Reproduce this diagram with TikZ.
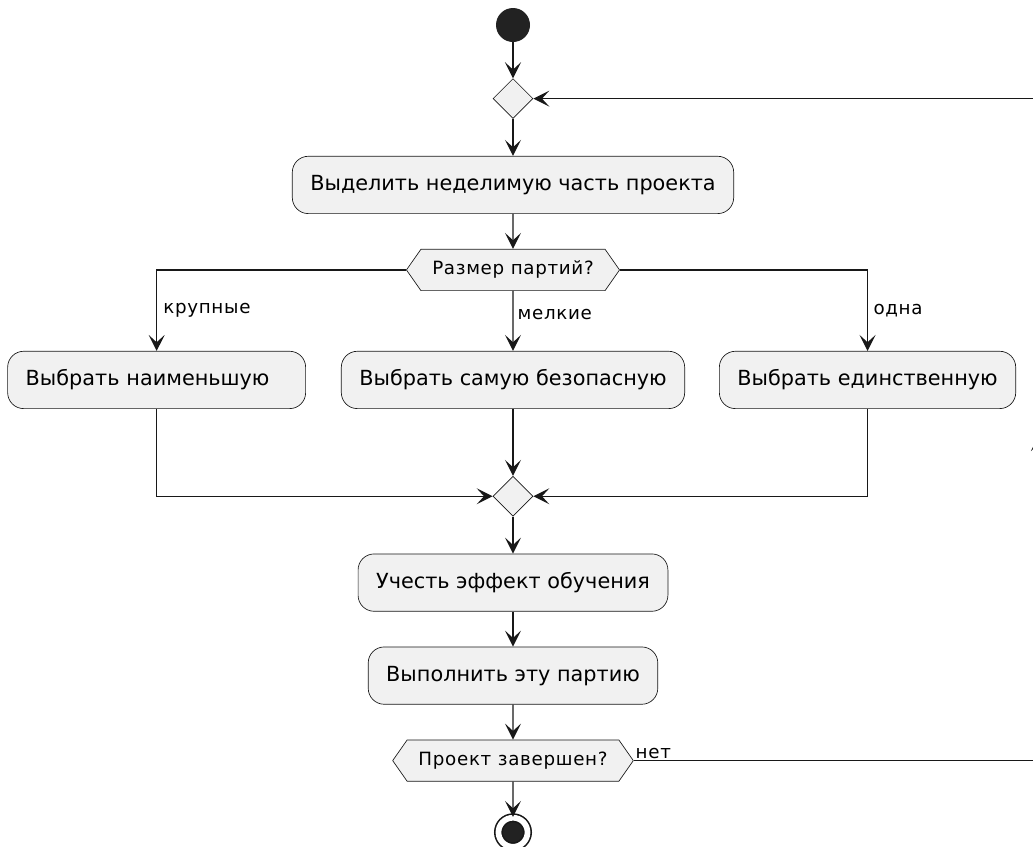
\documentclass[tikz,border=0pt]{standalone}
\usepackage{fontspec}
\setmainfont{DejaVu Sans}
\newfontfamily\notefont[LetterSpace=3.8]{DejaVu Sans}
\usepackage{xcolor}
\usetikzlibrary{arrows.meta, positioning, shapes.geometric, shapes.symbols}
\definecolor{boxfill}{HTML}{F1F1F1}
\definecolor{ink}{HTML}{181818}
\definecolor{dot}{HTML}{222222}

\begin{document}
\begin{tikzpicture}[
  x=0.75pt, y=-0.75pt,
  act/.style={draw=ink, line width=0.5pt, fill=boxfill, rounded corners=12pt,
              font=\fontsize{15.6}{18}\selectfont, inner xsep=13.5pt,
              minimum height=43pt},
  dec/.style={signal, signal to=west and east, signal pointer angle=110,
              draw=ink, line width=0.5pt, fill=boxfill,
              font=\notefont\fontsize{13.7}{16}\selectfont, inner xsep=8.5pt,
              minimum height=31pt},
  knot/.style={diamond, draw=ink, line width=0.5pt, fill=boxfill,
               minimum width=30pt, minimum height=30pt, inner sep=0pt},
  lbl/.style={font=\notefont\fontsize{13.7}{16}\selectfont, inner sep=2pt},
  arr/.style={-{Stealth[length=12pt, width=12pt, inset=5.5pt]}, line width=1pt, draw=ink}
]
  \useasboundingbox (0,0) rectangle (1033,847);

  \node[circle, fill=dot, minimum size=25.5pt, inner sep=0pt] (start) at (513,25) {};
  \node[knot, below=27pt of start] (loop) {};
  \node[act, below=27.75pt of loop] (split) {Выделить неделимую часть проекта};
  \node[dec, below=26.25pt of split] (size) {Размер партий?};
  \node[act, below=45pt of size] (safest) {Выбрать самую безопасную};
  \node[act, left=26.25pt of safest, text width=196.5pt, align=left] (least) {Выбрать наименьшую};
  \node[act, right=25.5pt of safest] (single) {Выбрать единственную};
  \node[knot, below=50.25pt of safest] (merge) {};
  \node[act, below=27.75pt of merge] (learn) {Учесть эффект обучения};
  \node[act, below=26.25pt of learn] (exec) {Выполнить эту партию};
  \node[dec, below=26.25pt of exec] (done) {Проект завершен?};
  \node[circle, fill=dot, draw=ink, line width=1.2pt, double=white, double distance=4.3pt,
        minimum size=21.8pt, inner sep=0pt, below=26.5pt of done] (stop) {};
  \coordinate (back) at (1039,435);

  \draw[arr] (start) -- (loop);
  \draw[arr] (loop) -- (split);
  \draw[arr] (split) -- (size);
  \draw[arr] (size.west) -| node[lbl, pos=0.75, right=2.5pt] {крупные} (least.north);
  \draw[arr] (size) -- node[lbl, pos=0.4, right=1pt] {мелкие} (safest);
  \draw[arr] (size.east) -| node[lbl, pos=0.75, right=2pt] {одна} (single.north);
  \draw[arr] (least.south) |- (merge.west);
  \draw[arr] (safest) -- (merge);
  \draw[arr] (single.south) |- (merge.east);
  \draw[arr] (merge) -- (learn);
  \draw[arr] (learn) -- (exec);
  \draw[arr] (exec) -- (done);
  \draw[arr] (done) -- (stop);
  \draw[arr] (done.east) -- node[lbl, pos=0, anchor=south west, inner sep=1pt] {нет} (done.east -| back) -- (back);
  \draw[arr] (back) -- (back |- loop) -- (loop.east);
\end{tikzpicture}
\end{document}
